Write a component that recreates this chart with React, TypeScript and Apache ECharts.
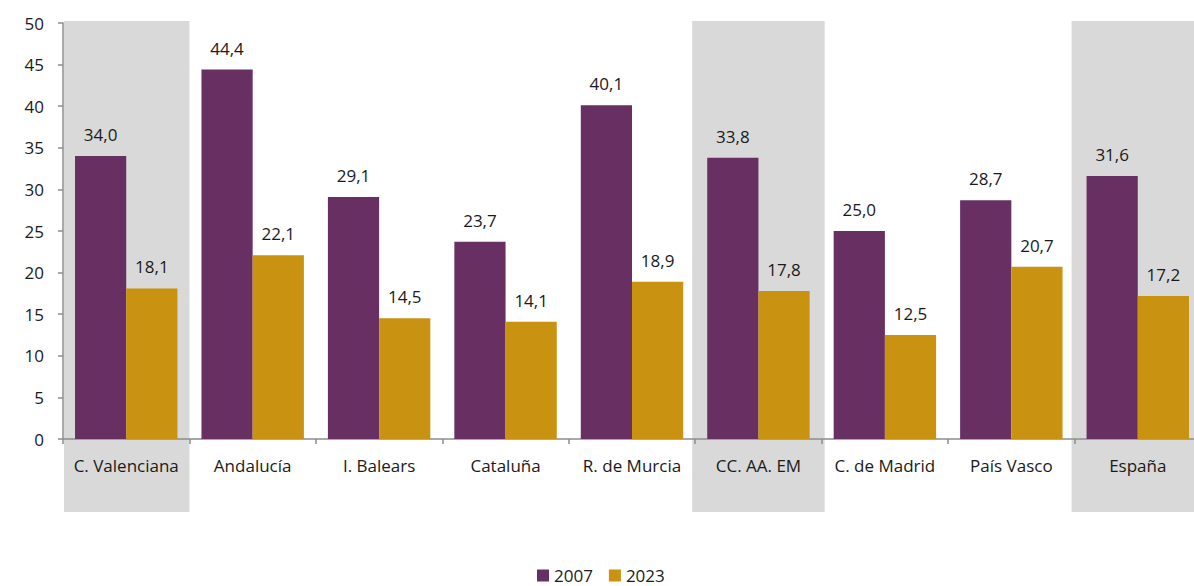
import React, { useEffect, useRef } from "react";
import * as echarts from "echarts";

const categories = [
  "C. Valenciana",
  "Andalucía",
  "I. Balears",
  "Cataluña",
  "R. de Murcia",
  "CC. AA. EM",
  "C. de Madrid",
  "País Vasco",
  "España",
];
const values2007 = [34.0, 44.4, 29.1, 23.7, 40.1, 33.8, 25.0, 28.7, 31.6];
const values2023 = [18.1, 22.1, 14.5, 14.1, 18.9, 17.8, 12.5, 20.7, 17.2];
const highlighted = ["C. Valenciana", "CC. AA. EM", "España"];
const seriesNames = ["2007", "2023"];

const FONT = "'Open Sans', 'Noto Sans', sans-serif";
const FS = 17;
const PURPLE = "#682f63";
const GOLD = "#c99210";
const AXIS = "#8c8c8c";

export default function App() {
  const ref = useRef<HTMLDivElement>(null);
  useEffect(() => {
    if (!ref.current) return;
    const chart = echarts.init(ref.current, undefined, { renderer: "svg" });
    const label = {
      show: true,
      position: "top",
      distance: 13,
      fontFamily: FONT,
      fontSize: FS,
      color: "#1a1a1a",
      formatter: (p: any) => p.value.toFixed(1).replace(".", ","),
    };
    chart.setOption({
      animation: false,
      textStyle: { fontFamily: FONT },
      grid: { left: 63, top: 23, width: 1138, height: 416, containLabel: false },
      legend: {
        data: seriesNames,
        top: 567,
        left: 537,
        padding: 0,
        icon: "rect",
        itemWidth: 12,
        itemHeight: 12,
        itemGap: 16,
        itemStyle: { borderWidth: 0 },
        textStyle: { fontFamily: FONT, fontSize: FS, color: "#1a1a1a", lineHeight: 17 },
      },
      xAxis: {
        type: "category",
        data: categories,
        axisLine: { lineStyle: { color: AXIS, width: 1.5 } },
        axisTick: { show: true, length: 5, alignWithLabel: false, lineStyle: { color: AXIS, width: 1.5 } },
        axisLabel: { fontFamily: FONT, fontSize: FS, color: "#1a1a1a", margin: 18, interval: 0 },
      },
      yAxis: {
        type: "value",
        min: 0,
        max: 50,
        interval: 5,
        splitLine: { show: false },
        axisLine: { show: true, lineStyle: { color: AXIS, width: 1.5 } },
        axisTick: { show: true, length: 5, lineStyle: { color: AXIS, width: 1.5 } },
        axisLabel: { fontFamily: FONT, fontSize: FS, color: "#1a1a1a", margin: 19 },
      },
      series: [
        {
          name: seriesNames[0],
          type: "bar",
          data: values2007,
          itemStyle: { color: PURPLE },
          barGap: "0%",
          barCategoryGap: "19%",
          label,
          z: 3,
        },
        {
          name: seriesNames[1],
          type: "bar",
          data: values2023,
          itemStyle: { color: GOLD },
          barGap: "0%",
          barCategoryGap: "19%",
          label,
          z: 3,
        },
      ],
    });

    const x0 = chart.convertToPixel({ xAxisIndex: 0 }, 0) as number;
    const x1 = chart.convertToPixel({ xAxisIndex: 0 }, 1) as number;
    const band = x1 - x0;
    const yTop = chart.convertToPixel({ yAxisIndex: 0 }, 50) as number;
    const yZero = chart.convertToPixel({ yAxisIndex: 0 }, 0) as number;
    const rects = highlighted.map((name) => {
      const idx = categories.indexOf(name);
      const cx = chart.convertToPixel({ xAxisIndex: 0 }, idx) as number;
      const left = cx - band / 2 + (idx === 0 ? 1 : -3);
      const width = band + (idx === 0 ? -1 : 6);
      return {
        type: "rect",
        z: -10,
        silent: true,
        shape: { x: left, y: yTop - 2, width, height: yZero - yTop + 2 + 73 },
        style: { fill: "#d9d9d9" },
      };
    });
    chart.setOption({ graphic: rects });

    return () => chart.dispose();
  }, []);
  return (
    <div
      style={{ position: "absolute", left: 0, top: 0, width: 1194, height: 586, overflow: "hidden" }}
    >
      <div ref={ref} style={{ width: 1210, height: 586 }} />
    </div>
  );
}
